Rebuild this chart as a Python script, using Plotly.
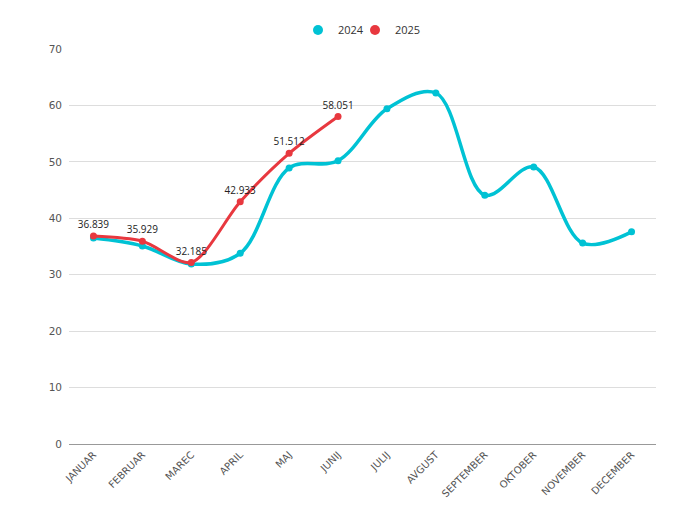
import plotly.graph_objects as go

months = ["JANUAR", "FEBRUAR", "MAREC", "APRIL", "MAJ", "JUNIJ", "JULIJ",
          "AVGUST", "SEPTEMBER", "OKTOBER", "NOVEMBER", "DECEMBER"]
values_2024 = [36.5, 35.1, 31.9, 33.8, 48.9, 50.2, 59.4, 62.2, 44.1, 49.1, 35.6, 37.6]
values_2025 = [36.839, 35.929, 32.185, 42.933, 51.512, 58.051]
labels_2025 = ["36.839", "35.929", "32.185", "42.933", "51.512", "58.051"]
series_names = ["2024", "2025"]

c24 = "#00C2D4"
c25 = "#E8383F"
font_fam = "DejaVu Sans, Open Sans, sans-serif"

fig = go.Figure()
fig.add_trace(go.Scatter(
    x=months, y=values_2024, name=series_names[0], mode="lines+markers",
    line=dict(color=c24, width=3.5, shape="spline", smoothing=1),
    marker=dict(color=c24, size=7), showlegend=False,
))
fig.add_trace(go.Scatter(
    x=months[:len(values_2025)], y=values_2025, name=series_names[1], mode="lines+markers+text",
    line=dict(color=c25, width=3, shape="spline", smoothing=0.8),
    marker=dict(color=c25, size=7), showlegend=False,
    text=labels_2025, textposition="top center",
    textfont=dict(family="Open Sans, sans-serif", size=10, color="#222222"),
))
# legend entries (circle only), one legend each for tight spacing
for nm, col, lg in zip(series_names, [c24, c25], ["legend", "legend2"]):
    fig.add_trace(go.Scatter(x=[None], y=[None], name=nm, mode="markers",
                             marker=dict(color=col, size=10), legend=lg))

leg_common = dict(orientation="h", xanchor="left", xref="container",
                  y=1 - 22 / 510, yanchor="middle", yref="container",
                  font=dict(family="Open Sans, sans-serif", size=11, color="#333333"),
                  itemwidth=30, bgcolor="rgba(0,0,0,0)")

fig.update_layout(
    width=680, height=510,
    margin=dict(l=61, r=32, t=41, b=74, autoexpand=False),
    paper_bgcolor="white", plot_bgcolor="white",
    showlegend=True,
    legend=dict(x=290 / 680, **leg_common),
    legend2=dict(x=347 / 680, **leg_common),
    xaxis=dict(type="category", range=[-0.5, 11.5], tickangle=-45,
               tickfont=dict(family=font_fam, size=10, color="#555555"),
               showgrid=False, showline=True, linecolor="#999999", linewidth=1,
               ticks="", zeroline=False, automargin=False),
    yaxis=dict(range=[0, 70], dtick=10, tick0=0,
               tickfont=dict(family=font_fam, size=10.5, color="#555555"),
               showgrid=True, gridcolor="#dddddd", gridwidth=1,
               ticks="", ticklabelstandoff=6,
               zeroline=False, showline=False, automargin=False),
)

fig.write_html("out.html")
